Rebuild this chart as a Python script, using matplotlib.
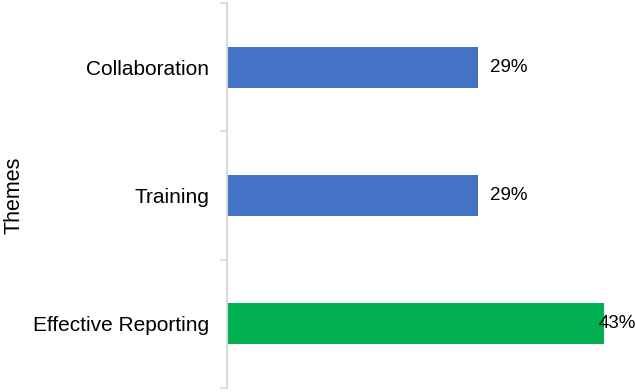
import matplotlib
matplotlib.use("Agg")
import matplotlib.pyplot as plt
from matplotlib.ticker import FixedLocator

plt.rcParams['font.family'] = ['Liberation Sans', 'DejaVu Sans']

themes = ["Collaboration", "Training", "Effective Reporting"]
shares = [28.57, 28.57, 42.86]
colors = ["#4472C4", "#4472C4", "#00B050"]
axis_label = "Themes"

fig = plt.figure(figsize=(6.36, 3.92), dpi=100)
ax = fig.add_axes([0.357, 0.0102, 0.593, 0.982])

ypos = list(range(len(themes)))
ax.barh(ypos, shares, height=0.32, color=colors)
ax.set_ylim(len(themes) - 0.5, -0.5)
ax.set_xlim(0, max(shares))

ax.set_yticks(ypos)
ax.set_yticklabels(themes, fontsize=15, color="#000000")
ax.tick_params(axis="y", which="major", length=0, pad=13)
ax.yaxis.set_minor_locator(FixedLocator([i - 0.5 for i in range(len(themes) + 1)]))
ax.tick_params(axis="y", which="minor", length=5, width=1.2, color="#d9d9d9")
ax.set_xticks([])

for s in ["top", "right", "bottom"]:
    ax.spines[s].set_visible(False)
ax.spines["left"].set_color("#d9d9d9")
ax.spines["left"].set_linewidth(1.5)

ax.set_ylabel(axis_label, fontsize=15.5, ha="center", va="center")
ax.yaxis.set_label_coords(-0.566, 0.5)

vmax = max(shares)
for y, v in zip(ypos, shares):
    if v < vmax:
        ax.annotate(f"{v:.0f}%", xy=(v, y), xytext=(8, 0), textcoords="offset points",
                    ha="left", va="center", fontsize=13.5, annotation_clip=False)
    else:
        ax.annotate(f"{v:.0f}%", xy=(v, y), xytext=(-4, 0), textcoords="offset points",
                    ha="left", va="center", fontsize=13.5, annotation_clip=False)

fig.savefig("out.png", dpi=100)
